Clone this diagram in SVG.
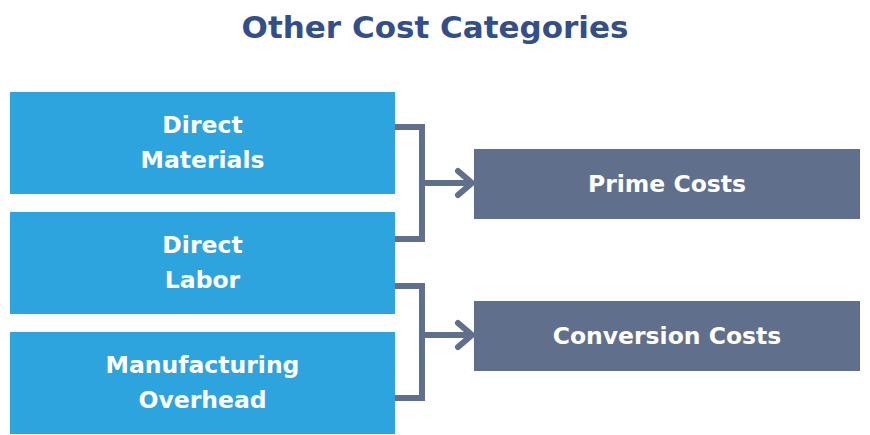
<svg xmlns="http://www.w3.org/2000/svg" width="870" height="435" viewBox="0 0 870 435">
<style>
.src{fill:#2ea4de}
.dst{fill:#5f6f8c}
.lbl{font-family:"DejaVu Sans","Open Sans",sans-serif;font-weight:700;font-size:23.5px;fill:#ffffff;text-anchor:middle}
.title{font-family:"DejaVu Sans","Open Sans",sans-serif;font-weight:700;font-size:31px;fill:#344f87;text-anchor:middle}
.con{fill:none;stroke:#5f6f8c;stroke-width:6}
.arr{fill:none;stroke:#5f6f8c;stroke-width:6;stroke-linecap:round;stroke-linejoin:round}
</style>
<rect width="870" height="435" fill="#ffffff"/>
<text class="title" x="435" y="38">Other Cost Categories</text>
<g id="connectors">
<path class="con" d="M395,127 H422 V239 H395"/>
<path class="con" d="M422,183 H470"/>
<path class="arr" d="M458,171 L472,183 L458,195"/>
<path class="con" d="M395,286 H422 V398 H395"/>
<path class="con" d="M422,335 H470"/>
<path class="arr" d="M458,323 L472,335 L458,347"/>
</g>
<g id="direct-materials">
<rect class="src" x="10" y="92" width="385" height="102"/>
<text class="lbl" x="202.5" y="133">Direct</text>
<text class="lbl" x="202.5" y="168">Materials</text>
</g>
<g id="direct-labor">
<rect class="src" x="10" y="212" width="385" height="102"/>
<text class="lbl" x="202.5" y="253">Direct</text>
<text class="lbl" x="202.5" y="288">Labor</text>
</g>
<g id="manufacturing-overhead">
<rect class="src" x="10" y="332" width="385" height="102"/>
<text class="lbl" x="202.5" y="373">Manufacturing</text>
<text class="lbl" x="202.5" y="408">Overhead</text>
</g>
<g id="prime-costs">
<rect class="dst" x="474" y="149" width="386" height="70"/>
<text class="lbl" x="667" y="192">Prime Costs</text>
</g>
<g id="conversion-costs">
<rect class="dst" x="474" y="301" width="386" height="70"/>
<text class="lbl" x="667" y="344">Conversion Costs</text>
</g>
</svg>
